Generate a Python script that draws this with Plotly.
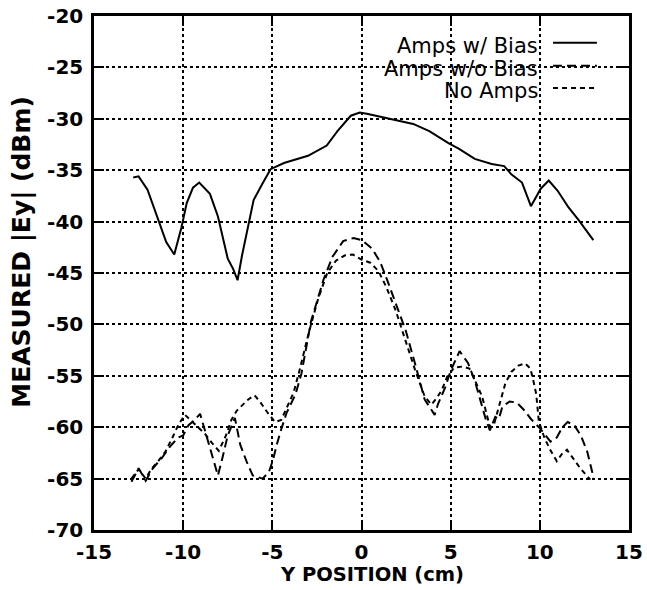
import plotly.graph_objects as go

# Y position (cm) and measured |Ey| (dBm)
x_bias = [-12.8, -12.5, -12.0, -11.4, -10.95, -10.5, -10.1, -9.8, -9.45, -9.1,
          -8.5, -8.05, -7.5, -7.2, -6.95, -6.7, -6.4, -6.05, -5.55, -5.1,
          -4.35, -3.6, -3.0, -1.95, -1.35, -0.6, -0.1, 0.3, 1.6, 2.9,
          3.8, 4.9, 5.45, 6.35, 7.3, 8.0, 8.4, 9.0, 9.5, 10.05,
          10.5, 11.0, 11.6, 12.2, 13.0]
y_bias = [-35.7, -35.6, -36.9, -39.9, -42.0, -43.2, -40.6, -38.2, -36.7, -36.2,
          -37.3, -39.5, -43.6, -44.6, -45.7, -43.3, -40.7, -37.9, -36.3, -34.9,
          -34.3, -33.9, -33.6, -32.6, -31.2, -29.7, -29.4, -29.5, -30.0, -30.5,
          -31.2, -32.4, -32.9, -33.9, -34.4, -34.6, -35.4, -36.2, -38.5, -36.8,
          -36.0, -37.0, -38.6, -39.9, -41.8]

x_nobias = [-12.9, -12.5, -12.1, -11.7, -11.2, -10.7, -10.27, -10.0, -9.7, -9.35,
            -9.05, -8.7, -8.35, -8.05, -7.8, -7.5, -7.1, -6.8, -6.43, -6.1,
            -5.55, -5.2, -4.95, -4.77, -4.5, -4.2, -3.7, -3.37, -2.83, -2.12,
            -1.62, -1.03, -0.45, 0.02, 0.58, 1.04, 1.4, 1.94, 2.48, 3.0,
            3.54, 4.1, 4.3, 4.7, 5.0, 5.5, 5.97, 6.34, 6.7, 6.98,
            7.2, 7.5, 7.7, 7.9, 8.3, 8.7, 9.1, 9.5, 9.95, 10.25,
            10.6, 10.95, 11.27, 11.56, 11.93, 12.3, 12.66, 12.93, 13.0]
y_nobias = [-65.3, -64.0, -65.2, -64.0, -63.0, -61.8, -61.0, -60.8, -59.8, -59.3,
            -58.7, -60.8, -63.0, -64.7, -63.0, -60.8, -59.1, -61.7, -63.4, -64.7,
            -65.0, -64.4, -63.1, -61.8, -60.2, -58.6, -56.8, -54.8, -49.7, -45.6,
            -43.4, -41.9, -41.6, -41.8, -42.6, -43.9, -45.5, -48.0, -50.6, -53.8,
            -57.3, -58.8, -57.7, -56.1, -54.5, -52.6, -53.75, -55.4, -57.6, -59.3,
            -60.3, -59.0, -59.2, -58.0, -57.5, -57.6, -58.3, -59.2, -60.0, -60.7,
            -61.4, -61.0, -60.0, -59.5, -59.8, -60.8, -62.4, -64.3, -65.1]

x_noamps = [-12.9, -12.5, -12.1, -11.8, -11.4, -11.0, -10.6, -10.25, -9.9, -9.6,
            -9.3, -8.8, -8.4, -8.0, -7.6, -7.3, -7.0, -6.7, -6.35, -6.0,
            -5.7, -5.3, -5.05, -4.85, -4.5, -4.2, -3.8, -3.45, -2.94, -2.43,
            -1.92, -1.43, -0.95, -0.48, 0.0, 0.49, 0.95, 1.4, 1.93, 2.47,
            3.0, 3.54, 3.92, 4.2, 4.5, 4.8, 5.2, 5.67, 6.05, 6.4,
            6.76, 7.0, 7.2, 7.45, 7.8, 8.07, 8.41, 8.8, 9.18, 9.47,
            9.64, 9.8, 9.87, 9.94, 10.25, 10.58, 10.95, 11.24, 11.52, 11.8,
            12.27, 12.83]
y_noamps = [-65.0, -64.1, -65.0, -64.1, -63.3, -62.4, -61.0, -59.7, -58.8, -59.3,
            -59.7, -60.6, -61.5, -62.3, -60.8, -59.3, -58.4, -57.9, -57.3, -56.9,
            -57.5, -58.5, -59.1, -59.5, -59.3, -58.2, -56.6, -54.3, -50.7, -47.5,
            -45.0, -43.8, -43.3, -43.2, -43.7, -44.0, -44.8, -46.4, -48.7, -51.6,
            -54.4, -57.0, -57.8, -57.2, -56.4, -55.1, -54.2, -54.1, -54.3, -55.6,
            -57.0, -58.6, -60.0, -59.6, -57.3, -55.7, -54.6, -54.0, -53.8, -54.3,
            -55.5, -56.8, -58.1, -59.4, -61.0, -62.2, -63.3, -62.6, -62.2, -62.9,
            -64.0, -65.1]

series_names = ["Amps w/ Bias", "Amps w/o Bias", "No Amps"]
x_ticks = [-15, -10, -5, 0, 5, 10, 15]
x_tick_labels = ["-15", "-10", "-5", "0", "5", "10", "15"]
y_ticks = [-70, -65, -60, -55, -50, -45, -40, -35, -30, -25, -20]
y_tick_labels = ["-70", "-65", "-60", "-55", "-50", "-45", "-40", "-35", "-30", "-25", "-20"]

dashes = ["solid", "9px,5px", "5px,4px"]
font_bold = dict(family="DejaVu Sans", size=20, color="black", weight="bold")

fig = go.Figure()
for name, xs, ys, dash in zip(series_names,
                              [x_bias, x_nobias, x_noamps],
                              [y_bias, y_nobias, y_noamps],
                              dashes):
    fig.add_trace(go.Scatter(x=xs, y=ys, name=name, mode="lines",
                             line=dict(color="black", width=2, dash=dash)))

# hand-drawn legend: text right aligned, line sample on the right
legend_y = [0.942, 0.897, 0.854]
shapes = []
annotations = []
for name, ly, dash in zip(series_names, legend_y, dashes):
    annotations.append(dict(x=0.834, y=ly, xref="paper", yref="paper",
                            text=name, showarrow=False, xanchor="right",
                            yanchor="middle",
                            font=dict(family="DejaVu Sans", size=21, color="black")))
    shapes.append(dict(type="line", xref="paper", yref="paper",
                       x0=0.858, x1=0.940, y0=ly + 0.006, y1=ly + 0.006,
                       line=dict(color="black", width=2, dash=dash)))

# axis titles placed by hand
annotations.append(dict(x=0.52, y=-0.112, xref="paper", yref="paper",
                        text="Y POSITION (cm)", showarrow=False,
                        xanchor="center", yanchor="bottom",
                        font=dict(family="DejaVu Sans", size=19.5, color="black", weight="bold")))
annotations.append(dict(x=-0.135, y=0.541, xref="paper", yref="paper",
                        text="MEASURED |Ey| (dBm)", showarrow=False, textangle=-90,
                        xanchor="center", yanchor="middle",
                        font=dict(family="DejaVu Sans", size=25, color="black", weight="bold")))

axis_common = dict(
    showline=True, linecolor="black", linewidth=2.5, mirror="ticks",
    ticks="inside", ticklen=10, tickwidth=2, tickcolor="black",
    showgrid=True, gridcolor="black", gridwidth=1.5, griddash="dot",
    zeroline=False, tickfont=font_bold, automargin=False,
    ticklabeloverflow="allow",
)

fig.update_layout(
    width=647, height=590,
    margin=dict(l=94, r=18, t=16, b=60),
    paper_bgcolor="white", plot_bgcolor="white",
    showlegend=False,
    shapes=shapes, annotations=annotations,
    xaxis=dict(range=[-15, 15], tickvals=x_ticks, ticktext=x_tick_labels,
               ticklabelstandoff=2, **axis_common),
    yaxis=dict(range=[-70, -20], tickvals=y_ticks, ticktext=y_tick_labels,
               ticklabelstandoff=4, **axis_common),
)

# drop the default page margin so the figure sits at the window corner
fig.write_html("out.html", config={"displayModeBar": False},
               post_script="document.body.style.margin='0';"
                           "document.body.style.overflow='hidden';")
